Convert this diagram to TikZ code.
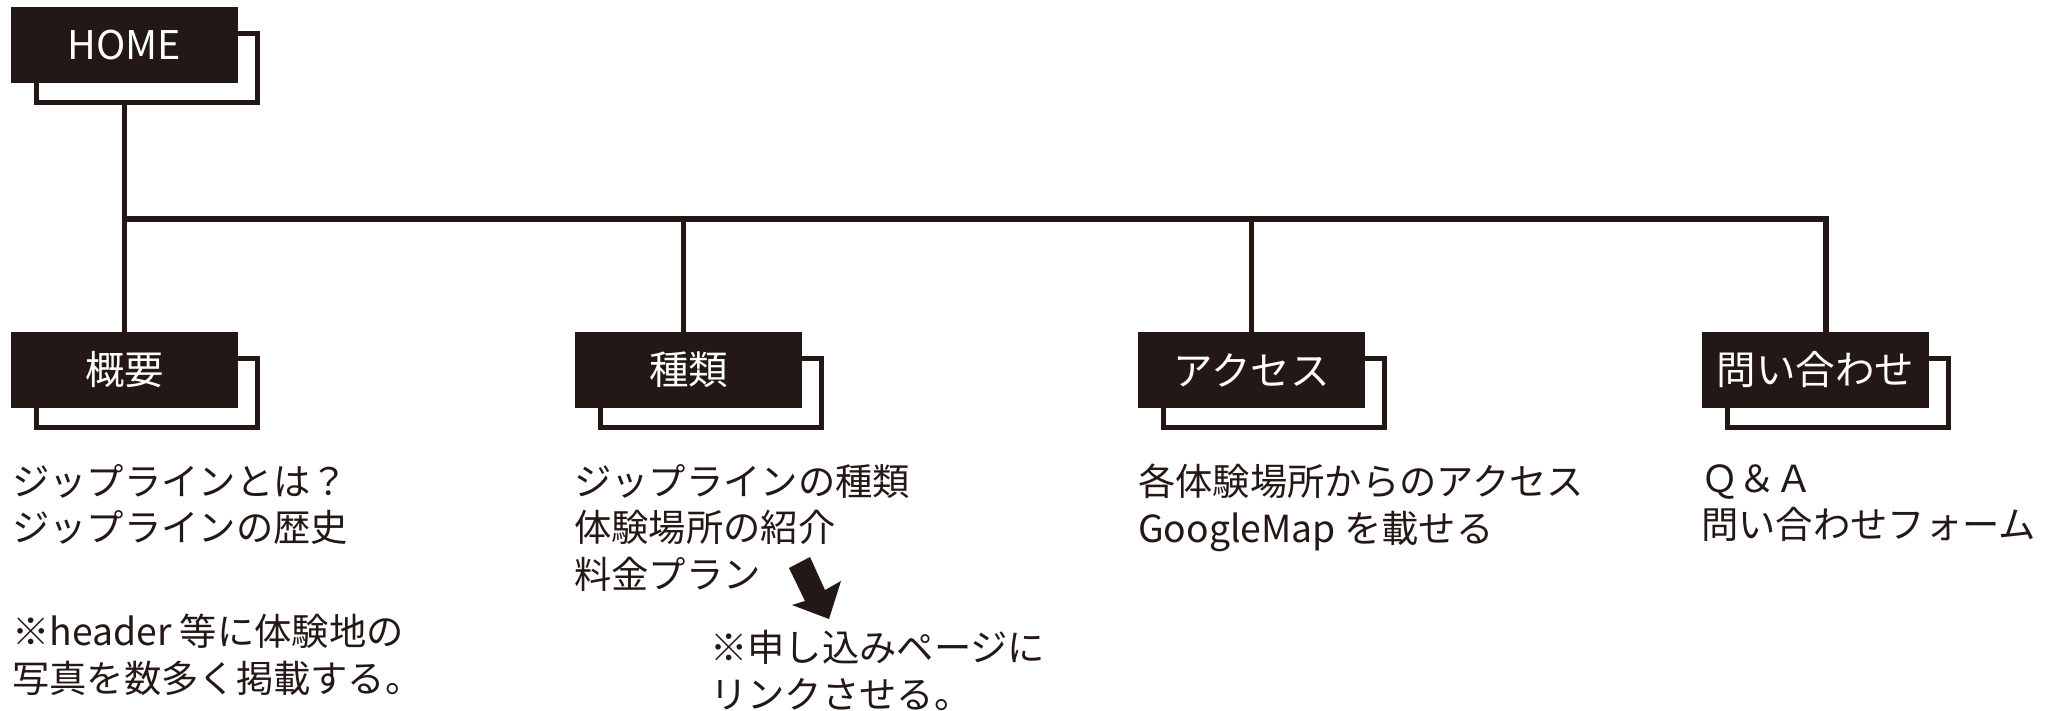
\documentclass[tikz,border=0pt]{standalone}
\usepackage{fontspec}
\setmainfont{Noto Sans CJK JP}
\definecolor{ink}{RGB}{35,24,21}
\begin{document}
\begin{tikzpicture}[x=1pt,y=-1pt,
  blk/.style={fill=ink,text=white,minimum width=227pt,minimum height=76pt,inner sep=0pt,
    font=\fontsize{39.5pt}{46pt}\selectfont},
  shd/.style={draw=ink,fill=white,line width=5pt,minimum width=221pt,minimum height=69.5pt,inner sep=0pt},
  conn/.style={draw=ink,line width=5.3pt},
  body/.style={anchor=north west,inner sep=0pt,align=left,text=ink,
    font=\fontsize{37.3pt}{46.5pt}\selectfont},
]
\path[use as bounding box] (0,0) rectangle (2058,710);

% bus junctions
\coordinate (j1) at (124.5,219);
\coordinate (j2) at (683.5,219);
\coordinate (j3) at (1251.5,219);
\coordinate (j4) at (1826,219);

% label box positions
\path (124.5,45) coordinate (phome)
      (124.5,370) coordinate (p1)
      (688.5,370) coordinate (p2)
      (1251.5,370) coordinate (p3)
      (1815.5,370) coordinate (p4);

% connectors
\draw[conn] (phome) -- (p1);
\draw[conn] (j1) -- (j4) -- (j4 |- p4);
\draw[conn] (j2) -- (j2 |- p2);
\draw[conn] (j3) -- (j3 |- p3);

% shadow outlines
\node[shd] (homeS) at ([shift={(22.9,22.9)}]phome) {};
\node[shd] (s1) at ([shift={(22.9,22.9)}]p1) {};
\node[shd] (s2) at ([shift={(22.9,22.9)}]p2) {};
\node[shd] (s3) at ([shift={(22.9,22.9)}]p3) {};
\node[shd] (s4) at ([shift={(22.9,22.9)}]p4) {};

% black boxes
\node[blk] (home) at (phome) {HOME};
\node[blk] (gaiyo) at (p1) {概要};
\node[blk] (shurui) at (p2) {種類};
\node[blk] (access) at (p3) {アクセス};
\node[blk] (contact) at (p4) {問い合わせ};

% body texts
\node[body] (t1) at (12,464) {ジップラインとは？\\ジップラインの歴史};
\node[body] (t1b) at (12,614) {※header 等に体験地の\\写真を数多く掲載する。};
\node[body] (t2) at (574,464) {ジップラインの種類\\体験場所の紹介\\料金プラン};
\node[body] (t2b) at (710,630) {※申し込みページに\\リンクさせる。};
\node[body] (t3) at (1138,464) {各体験場所からのアクセス\\GoogleMap を載せる};
\node[body] (t4) at (1701,464) {Ｑ＆Ａ\\問い合わせフォーム};

% block arrow
\fill[ink] (789,568) -- (810,557) -- (825,590) -- (841,581) -- (829,619) -- (792,605) -- (805,601) -- cycle;
\end{tikzpicture}
\end{document}
